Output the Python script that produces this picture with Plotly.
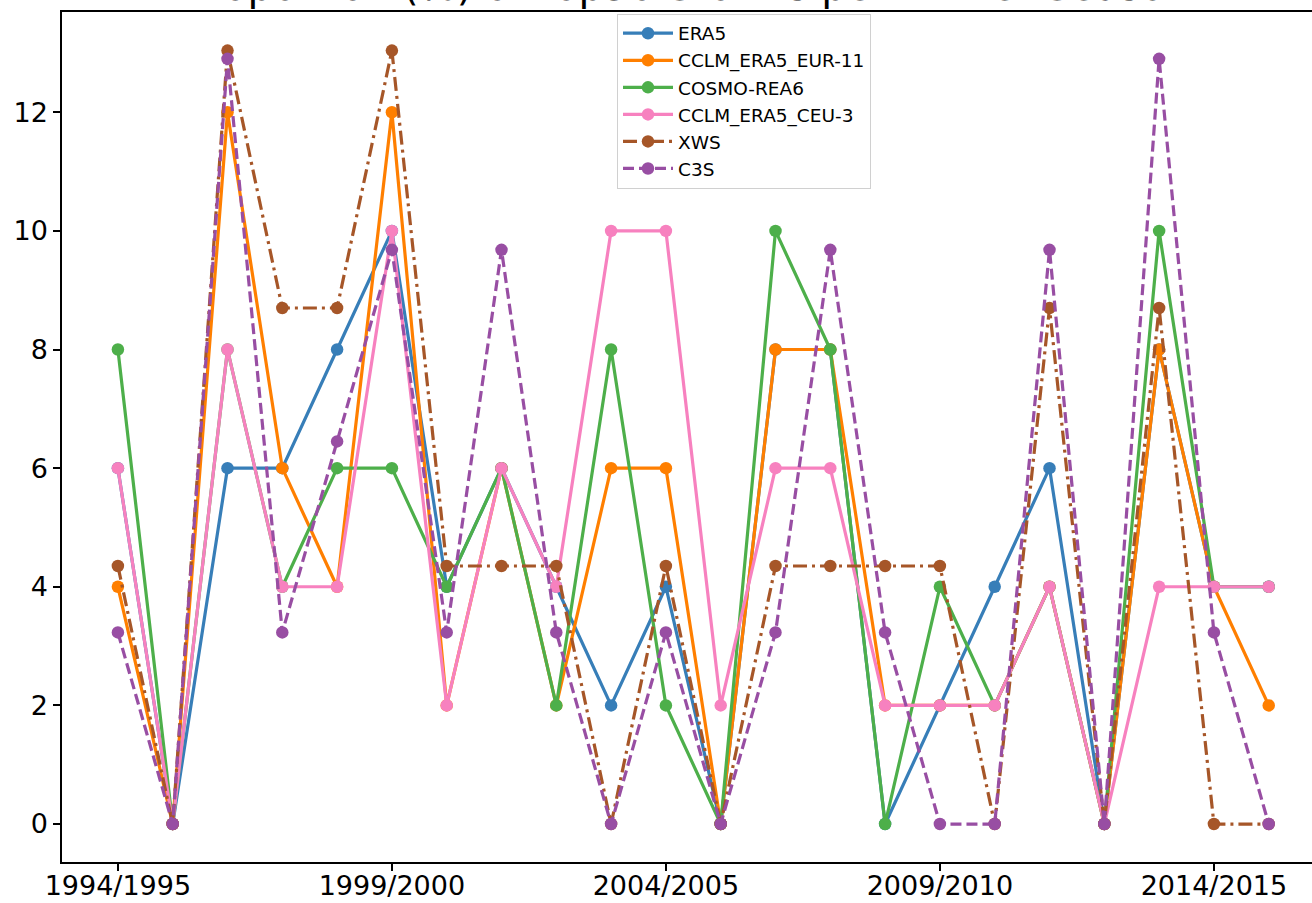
import plotly.graph_objects as go

seasons = [f"{y}/{y+1}" for y in range(1994, 2016)]
tick_labels = ["1994/1995", "1999/2000", "2004/2005", "2009/2010", "2014/2015"]

era5 = [6, 0, 6, 6, 8, 10, 4, 6, 4, 2, 4, 0, 8, 8, 0, 2, 4, 6, 0, 8, 4, 4]
cclm_eur11 = [4, 0, 12, 6, 4, 12, 2, 6, 2, 6, 6, 0, 8, 8, 2, 2, 2, 4, 0, 8, 4, 2]
cosmo_rea6 = [8, 0, 8, 4, 6, 6, 4, 6, 2, 8, 2, 0, 10, 8, 0, 4, 2, 4, 0, 10, 4, 4]
cclm_ceu3 = [6, 0, 8, 4, 4, 10, 2, 6, 4, 10, 10, 2, 6, 6, 2, 2, 2, 4, 0, 4, 4, 4]
xws = [4.35, 0, 13.04, 8.70, 8.70, 13.04, 4.35, 4.35, 4.35, 0, 4.35, 0, 4.35, 4.35,
       4.35, 4.35, 0, 8.70, 0, 8.70, 0, 0]
c3s = [3.23, 0, 12.90, 3.23, 6.45, 9.68, 3.23, 9.68, 3.23, 0, 3.23, 0, 3.23, 9.68,
       3.23, 0, 0, 9.68, 0, 12.90, 3.23, 0]

series = [
    ("ERA5", era5, "#377eb8", "solid"),
    ("CCLM_ERA5_EUR-11", cclm_eur11, "#ff7f00", "solid"),
    ("COSMO-REA6", cosmo_rea6, "#4daf4a", "solid"),
    ("CCLM_ERA5_CEU-3", cclm_ceu3, "#f781bf", "solid"),
    ("XWS", xws, "#a65628", "14px,5px,3px,5px"),
    ("C3S", c3s, "#984ea3", "11px,5px"),
]

fig = go.Figure()
for name, vals, color, dash in series:
    fig.add_trace(go.Scatter(
        x=seasons, y=vals, name=name, mode="lines+markers", legendgroup=name,
        line=dict(color=color, width=3.2, dash=dash),
        marker=dict(color=color, size=12.5),
    ))

font_family = "DejaVu Sans"
fig.update_layout(
    width=1312, height=903,
    margin=dict(l=62, r=0, t=12, b=41),
    paper_bgcolor="white", plot_bgcolor="white",
    font=dict(family=font_family, color="black"),
    showlegend=True,
    legend=dict(x=0.444, y=0.998, xanchor="left", yanchor="top",
                bgcolor="rgba(255,255,255,0.8)", bordercolor="#d0d0d0", borderwidth=1,
                font=dict(size=18.5, family=font_family, color="black"),
                itemwidth=50, tracegroupgap=0),
)
fig.add_annotation(
    text="Proportion (%) of Top50 Storms per Winter Season",
    xref="paper", yref="paper", x=0.5, y=1, xanchor="center", yanchor="middle",
    yshift=26, showarrow=False,
    font=dict(size=40, family=font_family, color="black"),
)
fig.update_xaxes(
    type="category", categoryorder="array", categoryarray=seasons,
    range=[-1.02, 21.79], tickvals=tick_labels, ticktext=tick_labels,
    showgrid=False, zeroline=False, showline=True, linecolor="black", linewidth=1.5,
    mirror=True, ticks="outside", ticklen=7, tickcolor="black", tickwidth=1.5,
    tickfont=dict(size=27, family=font_family, color="black"), automargin=False,
    ticklabelstandoff=-8,
)
fig.update_yaxes(
    range=[-0.64, 13.69], tickvals=[0, 2, 4, 6, 8, 10, 12],
    showgrid=False, zeroline=False, showline=True, linecolor="black", linewidth=1.5,
    ticks="outside", ticklen=7, tickcolor="black", tickwidth=1.5,
    tickfont=dict(size=27, family=font_family, color="black"), automargin=False,
)

fig.write_html("out.html", config={"displayModeBar": False},
               post_script="document.body.style.margin='0px';")
